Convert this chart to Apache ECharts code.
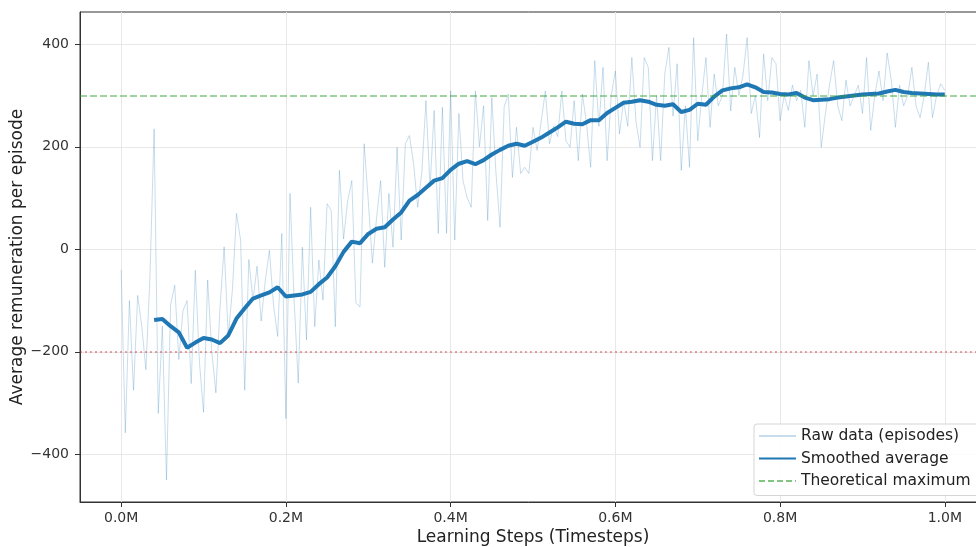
<!DOCTYPE html>
<html><head><meta charset="utf-8">
<script src="https://cdn.jsdelivr.net/npm/echarts@6/dist/echarts.min.js"></script>
<style>html,body{margin:0;padding:0;background:#fff}#c{width:976px;height:547px}</style>
</head><body><div id="c"></div>
<script>
// Learning steps (millions) for raw episodes
const rawSteps = [
0.000,0.005,0.010,0.015,0.020,0.025,0.030,0.035,0.040,0.045,
0.050,0.055,0.060,0.065,0.070,0.075,0.080,0.085,0.090,0.095,
0.100,0.105,0.110,0.115,0.120,0.125,0.130,0.135,0.140,0.145,
0.150,0.155,0.160,0.165,0.170,0.175,0.180,0.185,0.190,0.195,
0.200,0.205,0.210,0.215,0.220,0.225,0.230,0.235,0.240,0.245,
0.250,0.255,0.260,0.265,0.270,0.275,0.280,0.285,0.290,0.295,
0.300,0.305,0.310,0.315,0.320,0.325,0.330,0.335,0.340,0.345,
0.350,0.355,0.360,0.365,0.370,0.375,0.380,0.385,0.390,0.395,
0.400,0.405,0.410,0.415,0.420,0.425,0.430,0.435,0.440,0.445,
0.450,0.455,0.460,0.465,0.470,0.475,0.480,0.485,0.490,0.495,
0.500,0.505,0.510,0.515,0.520,0.525,0.530,0.535,0.540,0.545,
0.550,0.555,0.560,0.565,0.570,0.575,0.580,0.585,0.590,0.595,
0.600,0.605,0.610,0.615,0.620,0.625,0.630,0.635,0.640,0.645,
0.650,0.655,0.660,0.665,0.670,0.675,0.680,0.685,0.690,0.695,
0.700,0.705,0.710,0.715,0.720,0.725,0.730,0.735,0.740,0.745,
0.750,0.755,0.760,0.765,0.770,0.775,0.780,0.785,0.790,0.795,
0.800,0.805,0.810,0.815,0.820,0.825,0.830,0.835,0.840,0.845,
0.850,0.855,0.860,0.865,0.870,0.875,0.880,0.885,0.890,0.895,
0.900,0.905,0.910,0.915,0.920,0.925,0.930,0.935,0.940,0.945,
0.950,0.955,0.960,0.965,0.970,0.975,0.980,0.985,0.990,0.995,
1.000];
const rawReward = [
-40,-358,-100,-275,-90,-150,-235,-50,235,-320,
-150,-450,-108,-70,-215,-120,-100,-262,-41,-220,
-318,-60,-200,-280,-113,5,-170,-80,70,18,
-275,-20,-100,-33,-140,-60,-2,-110,-170,31,
-330,109,-100,-261,4,-177,82,-151,-21,-99,
89,76,-151,154,20,95,134,-105,-112,206,
95,-27,60,134,-35,109,4,199,18,206,
222,167,82,150,290,121,271,31,277,31,
309,18,265,134,101,82,309,200,280,56,
296,150,43,278,303,140,238,148,160,148,
238,193,250,309,206,240,220,309,212,199,
290,173,303,245,160,368,240,355,173,300,
348,225,290,240,374,250,199,374,355,173,
300,173,342,394,260,362,154,280,160,413,
212,300,374,238,342,280,300,420,270,355,
300,340,413,265,300,218,381,290,374,362,
251,300,271,320,290,310,238,368,300,342,
199,265,320,368,280,251,330,280,300,320,
265,374,232,300,348,290,383,330,238,320,
280,300,355,280,257,300,365,257,300,323,
310];
const smoothSteps = [
0.04,0.05,0.06,0.07,0.08,0.09,
0.10,0.11,0.12,0.13,0.14,0.15,0.16,0.17,0.18,0.19,
0.20,0.21,0.22,0.23,0.24,0.25,0.26,0.27,0.28,0.29,
0.30,0.31,0.32,0.33,0.34,0.35,0.36,0.37,0.38,0.39,
0.40,0.41,0.42,0.43,0.44,0.45,0.46,0.47,0.48,0.49,
0.50,0.51,0.52,0.53,0.54,0.55,0.56,0.57,0.58,0.59,
0.60,0.61,0.62,0.63,0.64,0.65,0.66,0.67,0.68,0.69,
0.70,0.71,0.72,0.73,0.74,0.75,0.76,0.77,0.78,0.79,
0.80,0.81,0.82,0.83,0.84,0.85,0.86,0.87,0.88,0.89,
0.90,0.91,0.92,0.93,0.94,0.95,0.96,0.97,0.98,0.99,
1.00];
const smoothReward = [
-138,-136,-150,-162,-192,-182,
-173,-176,-183,-168,-135,-115,-96,-90,-84,-74,
-92,-90,-88,-83,-68,-55,-33,-5,15,12,
30,40,43,58,72,95,106,120,134,139,
155,167,172,166,174,185,194,202,206,202,
210,218,228,238,249,245,244,252,252,266,
276,286,288,291,288,282,280,283,268,272,
284,282,298,310,314,316,322,316,307,306,
303,302,305,296,291,292,293,296,298,300,
302,303,304,308,311,307,305,304,303,302,
302];
const xTickValues = [0, 0.2, 0.4, 0.6, 0.8, 1.0];
const yTickValues = [-400, -200, 0, 200, 400];
const theoreticalMax = 300;
const lowerReference = -200;
const seriesNames = ['Raw data (episodes)', 'Smoothed average', 'Theoretical maximum'];

const rawData = rawSteps.map((x, i) => [x, rawReward[i]]);
const smoothData = smoothSteps.map((x, i) => [x, smoothReward[i]]);

const chart = echarts.init(document.getElementById('c'), null, {renderer: 'canvas'});
const font = 'DejaVu Sans';
chart.setOption({
  animation: false,
  backgroundColor: '#ffffff',
  textStyle: {fontFamily: font},
  grid: {left: 80, top: 12, right: -10, bottom: 45, show: true, borderColor: '#333', borderWidth: 1,
         outerBoundsMode: 'none', containLabel: false},
  legend: {
    data: seriesNames, orient: 'vertical', left: 754, top: 424,
    itemWidth: 37, itemHeight: 12, itemGap: 5.5, padding: [3.5, 60, 6, 4],
    backgroundColor: 'rgba(255,255,255,0.85)', borderColor: '#d5d5d5', borderWidth: 1, borderRadius: 3,
    itemStyle: {opacity: 0},
    textStyle: {fontSize: 15.5, color: '#222', lineHeight: 17, fontFamily: font},
    selectedMode: false
  },
  xAxis: {
    type: 'value', min: -0.05, max: 1.05,
    name: 'Learning Steps (Timesteps)', nameLocation: 'middle', nameGap: 27, nameMoveOverlap: false,
    nameTextStyle: {fontSize: 17, color: '#222', fontFamily: font},
    axisLine: {show: true, onZero: false, lineStyle: {color: '#333', width: 1}},
    axisTick: {show: true, customValues: xTickValues, length: 5, lineStyle: {color: '#333'}},
    axisLabel: {customValues: xTickValues, formatter: v => v.toFixed(1) + 'M', fontSize: 14, color: '#333', margin: 9, fontFamily: font},
    splitLine: {show: true, lineStyle: {color: '#e8e8e8', width: 1}}
  },
  yAxis: {
    type: 'value', min: -493, max: 463,
    name: 'Average remuneration per episode', nameLocation: 'middle', nameGap: 54, nameRotate: 90, nameMoveOverlap: false,
    nameTextStyle: {fontSize: 17, color: '#222', fontFamily: font},
    axisLine: {show: true, onZero: false, lineStyle: {color: '#333', width: 1}},
    axisTick: {show: true, customValues: yTickValues, length: 5, lineStyle: {color: '#333'}},
    axisLabel: {customValues: yTickValues, formatter: v => (v < 0 ? '\u2212' + Math.abs(v) : String(v)), fontSize: 14, color: '#333', margin: 11, fontFamily: font},
    splitLine: {show: true, lineStyle: {color: '#e8e8e8', width: 1}}
  },
  series: [
    {name: seriesNames[0], type: 'line', data: rawData, symbol: 'none', showSymbol: false,
     lineStyle: {color: 'rgba(31,119,180,0.25)', width: 1}, itemStyle: {color: 'rgba(31,119,180,0.25)'}, z: 2},
    {name: seriesNames[1], type: 'line', data: smoothData, symbol: 'none', showSymbol: false,
     lineStyle: {color: '#1f77b4', width: 4}, itemStyle: {color: '#1f77b4'}, z: 3},
    {name: seriesNames[2], type: 'line', data: [], symbol: 'none', showSymbol: false,
     lineStyle: {color: 'rgba(44,160,44,0.6)', width: 1.5, type: [6, 3]}, itemStyle: {color: 'rgba(44,160,44,0.6)'}, z: 4,
     markLine: {silent: true, symbol: ['none', 'none'], label: {show: false},
       lineStyle: {color: 'rgba(44,160,44,0.6)', width: 1.5, type: [7, 3]}, data: [{yAxis: theoreticalMax}]}},
    {name: 'lower', type: 'line', data: [], symbol: 'none', z: 4,
     markLine: {silent: true, symbol: ['none', 'none'], label: {show: false},
       lineStyle: {color: 'rgba(214,39,40,0.55)', width: 1.5, type: [2, 3]}, data: [{yAxis: lowerReference}]}}
  ]
});
</script></body></html>
